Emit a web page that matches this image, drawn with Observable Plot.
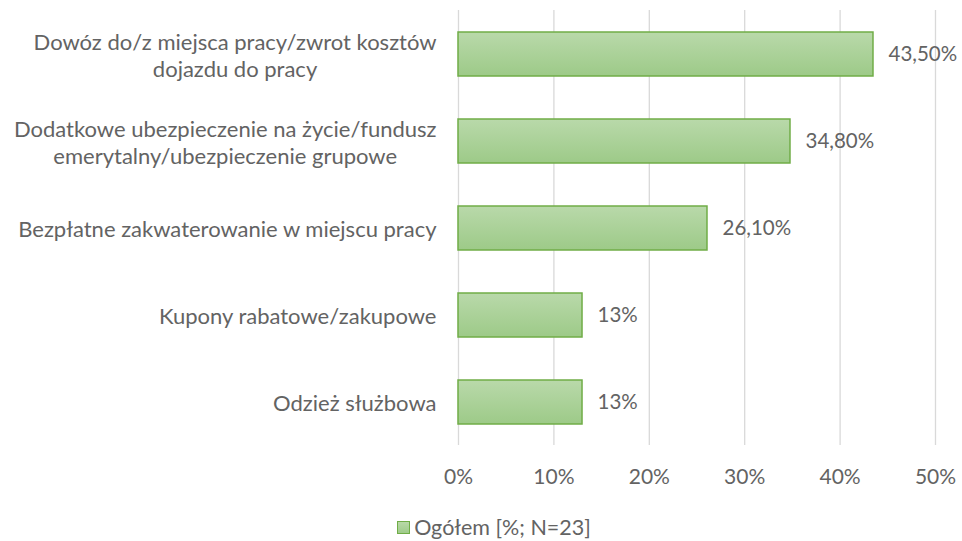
<!DOCTYPE html>
<html><head><meta charset="utf-8">
<script src="https://cdn.jsdelivr.net/npm/d3@7"></script>
<script src="https://cdn.jsdelivr.net/npm/@observablehq/plot@0.6"></script>
<style>
body{margin:0;background:#fff;font-family:Lato,sans-serif;}
#legend{width:962px;box-sizing:border-box;text-align:center;margin-top:14px;font-size:21.5px;color:#636363;padding-left:26px;}
#legend .sw{display:inline-block;width:11px;height:11px;background:linear-gradient(#b8d8a8,#9fcb8a);border:1px solid #70ad47;margin-right:4px;vertical-align:1px;}
</style></head><body>
<div id="chart"></div>
<div id="legend"></div>
<script>
const categories = ["Dowóz do/z miejsca pracy/zwrot kosztów\ndojazdu do pracy", "Dodatkowe ubezpieczenie na życie/fundusz\nemerytalny/ubezpieczenie grupowe", "Bezpłatne zakwaterowanie w miejscu pracy", "Kupony rabatowe/zakupowe", "Odzież służbowa"];
const values = [43.5, 34.8, 26.1, 13, 13];
const valueLabels = ["43,50%", "34,80%", "26,10%", "13%", "13%"];
const xTicks = [0, 10, 20, 30, 40, 50];
const seriesName = "Ogółem [%; N=23]";

const data = categories.map((c, i) => ({cat: c, v: values[i], label: valueLabels[i]}));

function gradientDefs() {
  const ns = "http://www.w3.org/2000/svg";
  const defs = document.createElementNS(ns, "defs");
  const g = document.createElementNS(ns, "linearGradient");
  g.setAttribute("id", "barGrad");
  g.setAttribute("x1", "0"); g.setAttribute("y1", "0"); g.setAttribute("x2", "0"); g.setAttribute("y2", "1");
  [["0%", "#b9d9aa"], ["100%", "#9dca88"]].forEach(([o, c]) => {
    const s = document.createElementNS(ns, "stop");
    s.setAttribute("offset", o); s.setAttribute("stop-color", c);
    g.appendChild(s);
  });
  defs.appendChild(g);
  return defs;
}

const chart = Plot.plot({
  width: 962,
  height: 500,
  marginLeft: 458,
  marginRight: 27,
  marginTop: 10,
  marginBottom: 55,
  style: {fontFamily: "Lato, sans-serif", color: "#636363", background: "#fff"},
  x: {domain: [0, 50], ticks: xTicks, label: null},
  y: {domain: categories, paddingInner: 0.5, paddingOuter: 0.25, label: null},
  marks: [
    gradientDefs,
    Plot.gridX(xTicks, {stroke: "#d9d9d9", strokeOpacity: 1, strokeWidth: 1.3}),
    Plot.barX(data, {x: "v", y: "cat", fill: "url(#barGrad)", stroke: "#70ad47", strokeWidth: 1.5}),
    Plot.text(data, {x: "v", y: "cat", text: "label", textAnchor: "start", dx: 15, fontSize: 20.5, fill: "#636363"}),
    Plot.axisX(xTicks, {tickSize: 0, tickPadding: 24, tickFormat: d => d + "%", fontSize: 21, fill: "#636363", label: null}),
    Plot.axisY({tickSize: 0, tickPadding: 22, fontSize: 22, lineHeight: 1.23, fill: "#636363", label: null})
  ]
});
document.getElementById("chart").appendChild(chart);

// center lines of multi-line category labels within their block
chart.querySelectorAll('g[aria-label="y-axis tick label"] text').forEach(t => {
  const spans = t.querySelectorAll("tspan");
  if (spans.length > 1) {
    let w = 0;
    spans.forEach(s => { w = Math.max(w, s.getComputedTextLength()); });
    t.setAttribute("text-anchor", "middle");
    spans.forEach(s => s.setAttribute("x", -w / 2));
  }
});

document.getElementById("legend").innerHTML = '<span class="sw"></span>' + seriesName;
</script>
</body></html>
